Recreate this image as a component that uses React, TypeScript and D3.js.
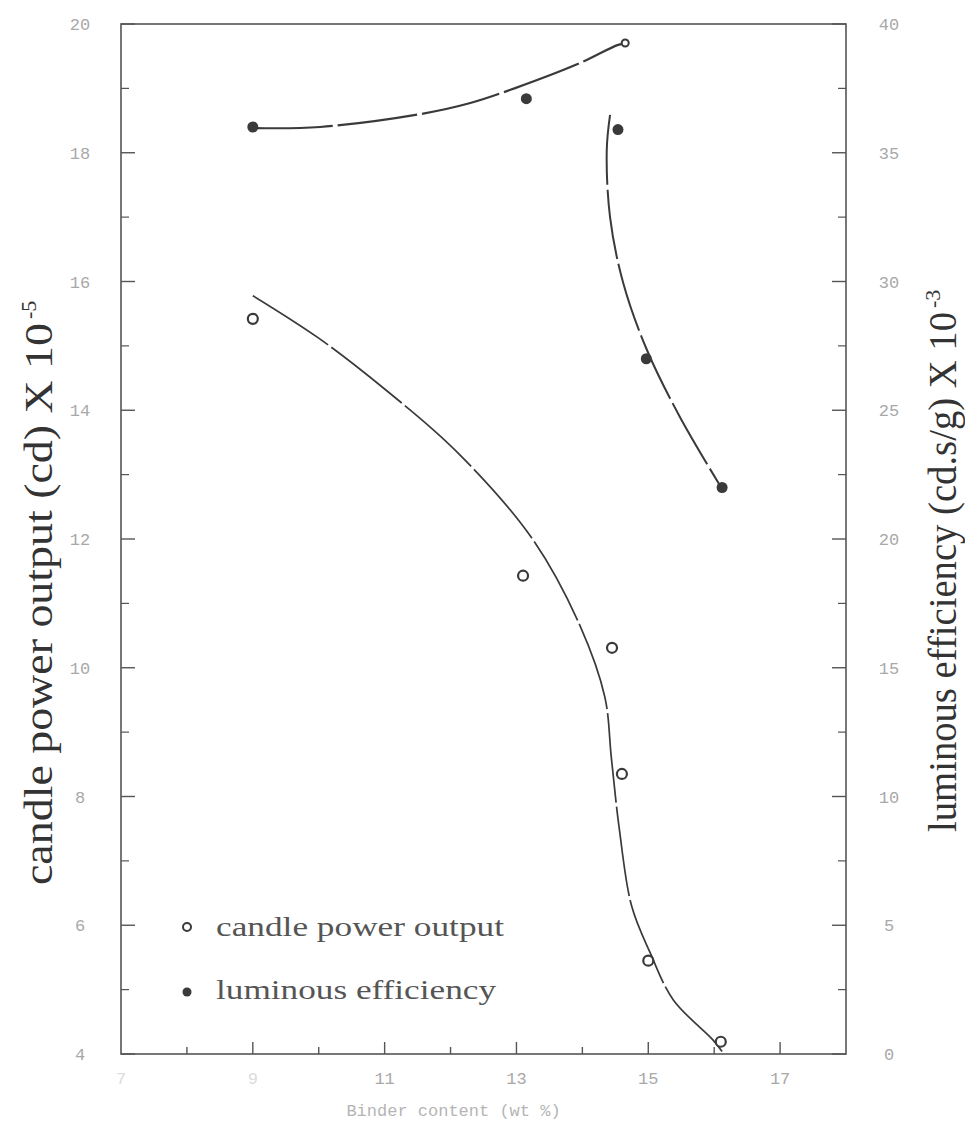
import React from "react";
import * as d3 from "d3";

// ---- data ----
const candleX = [9.0, 13.1, 14.45, 14.6, 15.0, 16.1];
const candleY = [15.42, 11.43, 10.31, 8.35, 5.45, 4.19];

const lumX = [9.0, 13.15, 14.54, 14.97, 16.12];
const lumY = [36.0, 37.1, 35.9, 27.0, 22.0];

// fitted curves (drawn in the original)
const candleFitX = [9.0, 10.0, 11.0, 12.1, 13.25, 13.97, 14.34, 14.44, 14.56, 14.75, 15.03, 15.38, 15.98, 16.12];
const candleFitY = [15.78, 15.12, 14.33, 13.35, 11.99, 10.64, 9.55, 8.6, 7.5, 6.29, 5.57, 4.84, 4.22, 4.04];

const lumFitAX = [9.0, 10.02, 11.54, 12.3, 12.98, 13.97, 14.53, 14.65];
const lumFitAY = [35.96, 36.0, 36.5, 36.93, 37.51, 38.49, 39.18, 39.26];

const lumFitBX = [14.42, 14.37, 14.42, 14.62, 14.98, 15.48, 16.12];
const lumFitBY = [36.47, 35.1, 32.5, 29.94, 27.34, 24.74, 21.94];

const xTicks = [8, 9, 10, 11, 12, 13, 14, 15, 16, 17];
const xLabels = [7, 9, 11, 13, 15, 17];
const leftLabels = [4, 6, 8, 10, 12, 14, 16, 18, 20];
const leftMinor = [5, 7, 9, 11, 13, 15, 17, 19];
const rightLabels = [0, 5, 10, 15, 20, 25, 30, 35, 40];

const W = 965;
const H = 1122;
const L = 121, R = 846, T = 24, B = 1054;

export default function App() {
  const x = d3.scaleLinear().domain([7, 18]).range([L, R]);
  const yL = d3.scaleLinear().domain([4, 20]).range([B, T]);
  const yR = d3.scaleLinear().domain([0, 40]).range([B, T]);

  const lineL = d3.line<[number, number]>().x(d => x(d[0])).y(d => yL(d[1])).curve(d3.curveCatmullRom.alpha(0.5));
  const lineR = d3.line<[number, number]>().x(d => x(d[0])).y(d => yR(d[1])).curve(d3.curveCatmullRom.alpha(0.5));

  const zip = (a: number[], b: number[]) => a.map((v, i) => [v, b[i]] as [number, number]);

  const ink = "#3a3a3a";
  const faint = "#a8a8a8";
  const tickFont = "'Liberation Mono', 'DejaVu Sans Mono', monospace";
  const serif = "'Liberation Serif', 'DejaVu Serif', serif";

  return (
    <svg width={W} height={H} style={{ position: "absolute", left: 0, top: 0, background: "#fff" }}>
      {/* frame */}
      <rect x={L} y={T} width={R - L} height={B - T} fill="none" stroke="#555" strokeWidth={1.6} />

      {/* x ticks (inward) */}
      {xTicks.map(t => (
        <line key={"xt" + t} x1={x(t)} x2={x(t)} y1={B} y2={B - (t % 2 === 1 ? 12 : 7)} stroke="#555" strokeWidth={1.4} />
      ))}
      {xLabels.map(t => (
        <text key={"xl" + t} x={x(t)} y={B + 30} textAnchor="middle" fontFamily={tickFont} fontSize={17}
          fill={t < 10 ? "#dcdcdc" : faint}>{t}</text>
      ))}
      <text x={x(12.5) - 30} y={B + 62} textAnchor="middle" fontFamily={tickFont} fontSize={17} fill="#b5b5b5">
        Binder content (wt %)
      </text>

      {/* left ticks */}
      {leftLabels.map(t => (
        <g key={"ll" + t}>
          <line x1={L} x2={L + 14} y1={yL(t)} y2={yL(t)} stroke="#555" strokeWidth={1.4} />
          <text x={80} y={yL(t) + 6} textAnchor="middle" fontFamily={tickFont} fontSize={17} fill={faint}>{t}</text>
        </g>
      ))}
      {leftMinor.map(t => (
        <line key={"lm" + t} x1={L} x2={L + 8} y1={yL(t)} y2={yL(t)} stroke="#555" strokeWidth={1.2} />
      ))}

      {/* right ticks */}
      {rightLabels.map(t => (
        <g key={"rl" + t}>
          <line x1={R} x2={R - 14} y1={yR(t)} y2={yR(t)} stroke="#555" strokeWidth={1.4} />
          <text x={889} y={yR(t) + 6} textAnchor="middle" fontFamily={tickFont} fontSize={17} fill={faint}>{t}</text>
        </g>
      ))}
      {rightLabels.slice(0, -1).map(t => (
        <line key={"rm" + t} x1={R} x2={R - 8} y1={yR(t + 2.5)} y2={yR(t + 2.5)} stroke="#555" strokeWidth={1.2} />
      ))}

      {/* axis titles */}
      <g transform="translate(52, 885) rotate(-90)">
        <text x={0} y={0} fontFamily={serif} fontSize={40} fill="#333" textLength={562} lengthAdjust="spacingAndGlyphs">
          candle power output  (cd) X 10
        </text>
        <text x={566} y={-16} fontFamily={serif} fontSize={22} fill="#333">-5</text>
      </g>
      <g transform="translate(956, 832) rotate(-90)">
        <text x={0} y={0} fontFamily={serif} fontSize={40} fill="#333" textLength={520} lengthAdjust="spacingAndGlyphs">
          luminous efficiency (cd.s/g) X 10
        </text>
        <text x={524} y={-16} fontFamily={serif} fontSize={22} fill="#333">-3</text>
      </g>

      {/* fitted curves */}
      <path d={lineL(zip(candleFitX, candleFitY)) || ""} fill="none" stroke={ink} strokeWidth={1.7} strokeDasharray="90 4" />
      <path d={lineR(zip(lumFitAX, lumFitAY)) || ""} fill="none" stroke={ink} strokeWidth={2.2} strokeDasharray="80 5" />
      <path d={lineR(zip(lumFitBX, lumFitBY)) || ""} fill="none" stroke={ink} strokeWidth={2} strokeDasharray="70 5" />
      <circle cx={x(lumFitAX[lumFitAX.length - 1])} cy={yR(lumFitAY[lumFitAY.length - 1])} r={3.5} fill="#fff" stroke={ink} strokeWidth={2} />

      {/* data markers */}
      {candleX.map((v, i) => (
        <circle key={"c" + i} cx={x(v)} cy={yL(candleY[i])} r={5} fill="#fff" stroke={ink} strokeWidth={2.2} />
      ))}
      {lumX.map((v, i) => (
        <circle key={"l" + i} cx={x(v)} cy={yR(lumY[i])} r={5.5} fill={ink} />
      ))}

      {/* legend */}
      <circle cx={187} cy={927} r={4} fill="#fff" stroke={ink} strokeWidth={2} />
      <text x={216} y={936} fontFamily={serif} fontSize={28} fill="#555" textLength={288} lengthAdjust="spacingAndGlyphs">candle power output</text>
      <circle cx={187} cy={992} r={4.5} fill={ink} />
      <text x={216} y={999} fontFamily={serif} fontSize={28} fill="#555" textLength={280} lengthAdjust="spacingAndGlyphs">luminous efficiency</text>
    </svg>
  );
}
